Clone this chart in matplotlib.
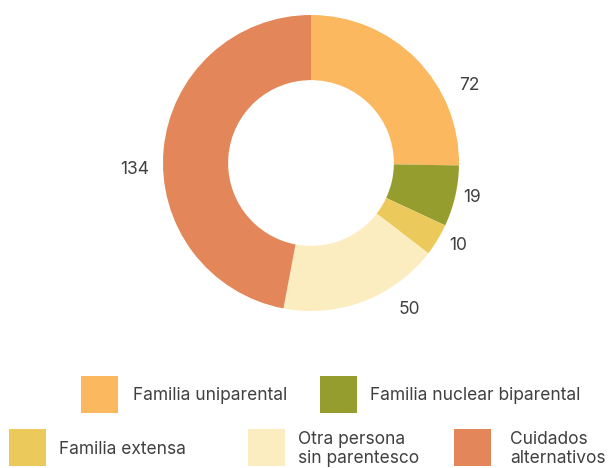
import matplotlib.pyplot as plt
from matplotlib.patches import Rectangle

plt.rcParams['font.family'] = ['Inter', 'DejaVu Sans']

# Data
categories = ['Familia uniparental', 'Familia nuclear biparental', 'Familia extensa',
              'Otra persona\nsin parentesco', 'Cuidados\nalternativos']
values = [72, 19, 10, 50, 134]
colors = ['#FBB85E', '#969D2F', '#ECC95B', '#FBEDC0', '#E3875A']

# label positions (pixels from top-left)
label_pos = [(469, 85), (472, 198), (458, 245), (409, 310), (135, 170)]
# legend layout: (square x, square y, text x)
legend_pos = [(81, 376, 133), (320, 376, 370), (9, 429, 59), (248, 429, 298), (454, 429, 510)]

W, H = 608, 468
fig = plt.figure(figsize=(W / 100, H / 100), dpi=100)

cx, cy, R = 311, 163, 148
ax = fig.add_axes([(cx - R) / W, (H - cy - R) / H, 2 * R / W, 2 * R / H])
ax.pie(values, colors=colors, startangle=90, counterclock=False,
       wedgeprops=dict(width=0.44, edgecolor='none'))
ax.set_xlim(-1, 1)
ax.set_ylim(-1, 1)
ax.set_aspect('equal')
ax.axis('off')

# overlay axes in pixel coordinates for labels and legend
ov = fig.add_axes([0, 0, 1, 1])
ov.set_xlim(0, W)
ov.set_ylim(H, 0)
ov.axis('off')

for v, (x, y) in zip(values, label_pos):
    ov.text(x, y, str(v), ha='center', va='center', fontsize=12.5, color='#404040')

for cat, col, (sx, sy, tx) in zip(categories, colors, legend_pos):
    ov.add_patch(Rectangle((sx, sy), 37, 37, facecolor=col, edgecolor='none'))
    ov.text(tx, sy + 20, cat, ha='left', va='center', fontsize=12.5, color='#404040',
            linespacing=1.1)

fig.savefig('out.png', dpi=100)
